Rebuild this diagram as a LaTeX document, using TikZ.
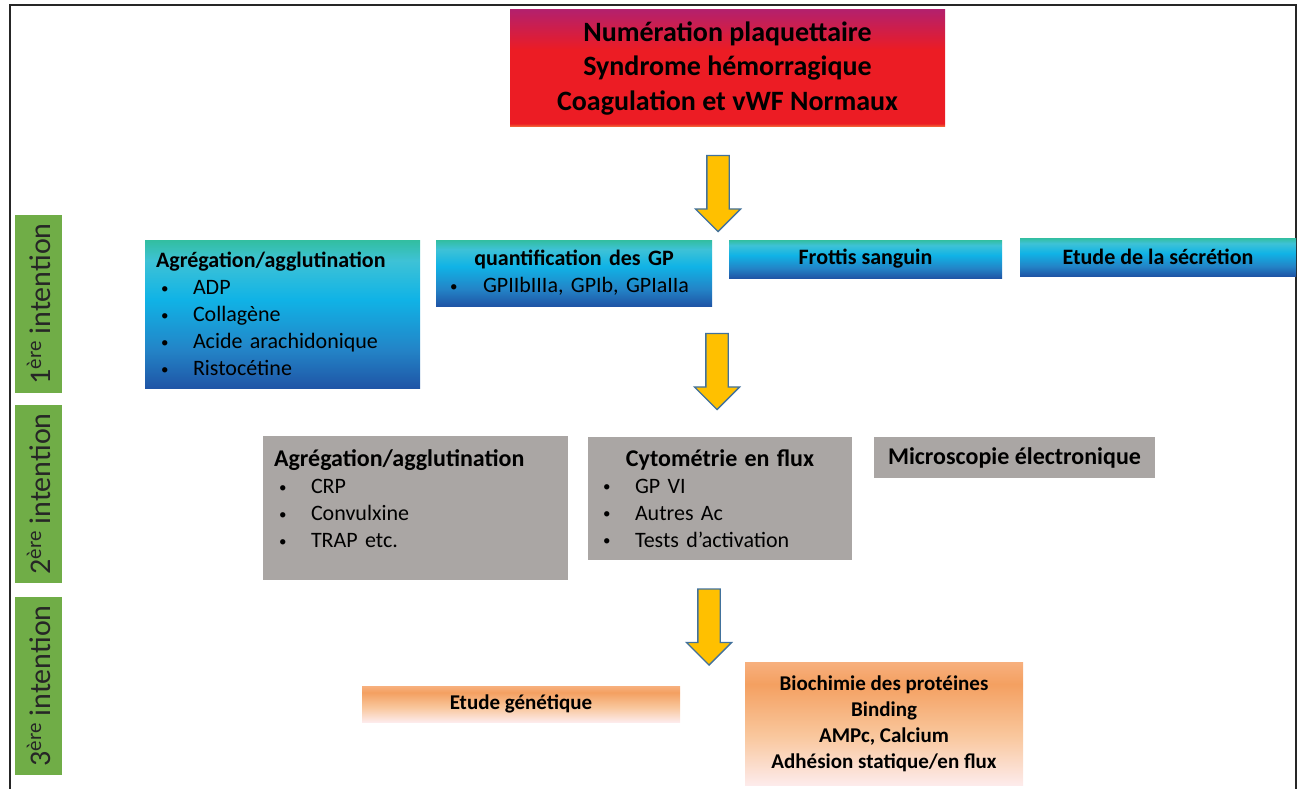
\documentclass[tikz,border=0pt]{standalone}
\usepackage{fontspec}
\setmainfont{Carlito}
\usetikzlibrary{shapes.arrows}
\usetikzlibrary{positioning}

\definecolor{tmag}{RGB}{180,32,108}
\definecolor{tred}{RGB}{236,28,36}
\definecolor{torange}{RGB}{244,120,60}
\definecolor{bteal}{RGB}{50,190,160}
\definecolor{blight}{RGB}{62,194,214}
\definecolor{bcyan}{RGB}{16,179,230}
\definecolor{bmid}{RGB}{35,132,199}
\definecolor{bdark}{RGB}{31,85,166}
\definecolor{otop}{RGB}{247,176,126}
\definecolor{oorange}{RGB}{244,160,97}
\definecolor{olight}{RGB}{249,199,157}
\definecolor{opale}{RGB}{253,235,235}
\definecolor{boxgray}{RGB}{170,166,164}
\definecolor{sidegreen}{RGB}{112,173,71}
\definecolor{arrowfill}{RGB}{255,192,0}
\definecolor{arrowline}{RGB}{65,113,156}

\pgfdeclareverticalshading{redshade}{100bp}{color(0bp)=(torange); color(25bp)=(torange); color(26.5bp)=(tred); color(58bp)=(tred); color(75bp)=(tmag); color(100bp)=(tmag)}
\pgfdeclareverticalshading{blueshade}{100bp}{color(0bp)=(bdark); color(25bp)=(bdark); color(38bp)=(bmid); color(55bp)=(bcyan); color(68bp)=(blight); color(75bp)=(bteal); color(100bp)=(bteal)}
\pgfdeclareverticalshading{orangeshade}{100bp}{color(0bp)=(opale); color(25bp)=(opale); color(45bp)=(olight); color(66bp)=(oorange); color(75bp)=(otop); color(100bp)=(otop)}

\newcommand{\smallbul}{\raisebox{1.5pt}{\fontsize{15}{15}\selectfont\textbullet}}
\newcommand{\itembul}[1]{\makebox[37pt][l]{\hspace{5pt}\smallbul}#1}

\tikzset{
    headbox/.style = {shading=redshade, align=center, inner sep=0pt, font=\fontsize{28}{34.5}\selectfont\bfseries},
    bluebox/.style = {shading=blueshade, inner sep=0pt, font=\fontsize{22}{27}\selectfont},
    graybox/.style = {fill=boxgray, inner sep=0pt, font=\fontsize{22}{27}\selectfont},
    orangebox/.style = {shading=orangeshade, inner sep=0pt, align=center, font=\fontsize{21}{26}\selectfont\bfseries},
    sidebox/.style = {fill=sidegreen, rotate=90, minimum width=178pt, minimum height=47pt, inner sep=0pt, text=black!85, font=\fontsize{30}{30}\selectfont},
    yellowarrow/.style = {single arrow, draw=arrowline, fill=arrowfill, line width=1.3pt, rotate=-90, minimum height=76pt, inner xsep=0pt, inner ysep=10.5pt, single arrow head extend=11.5pt, single arrow tip angle=90},
    frameline/.style = {draw=black!85, line width=2pt},
    titlefont/.style = {font=\fontsize{24}{27}\selectfont\bfseries}
}

\begin{document}
\begin{tikzpicture}[x=1pt, y=-1pt]
\useasboundingbox (0,0) rectangle (1301,789);
%
\draw[frameline] (10,789) -- (10,5) -- (1296,5) -- (1296,789);
%
\node[headbox, minimum width=435pt, minimum height=117pt] (head) at (727.5,68.5) {Numération plaquettaire\\Syndrome hémorragique\\Coagulation et vWF Normaux};
%
\node[sidebox] (side1) at (38.5,304) {1\textsuperscript{ère} intention};
\node[sidebox] (side2) at (38.5,494) {2\textsuperscript{ère} intention};
\node[sidebox] (side3) at (38.5,686) {3\textsuperscript{ère} intention};
%
\node[bluebox, minimum width=275pt, minimum height=148pt, text width=253pt, align=left] (agg1) at (282.5,314)
    {\textbf{Agrégation/agglutination}\\ \itembul{ADP}\\ \itembul{Collagène}\\ \itembul{Acide arachidonique}\\ \itembul{Ristocétine}};
\node[bluebox, minimum width=276pt, minimum height=66pt, text width=248pt, align=left] (quant) at (574,273)
    {\makebox[\linewidth]{\bfseries quantification des GP}\\ \makebox[33pt][l]{\smallbul}GPIIbIIIa, GPIb, GPIaIIa};
\node[bluebox, minimum width=273pt, minimum height=38pt, font=\fontsize{22}{27}\selectfont\bfseries] (frott) at (865.5,259) {Frottis sanguin};
\node[bluebox, minimum width=276pt, minimum height=38pt, font=\fontsize{22}{27}\selectfont\bfseries] (secr) at (1158,257) {Etude de la sécrétion};
%
\node[graybox, minimum width=305pt, minimum height=144pt, text width=283pt, align=left] (agg2) at (415.5,508)
    {{\fontsize{24}{27}\selectfont\bfseries Agrégation/agglutination}\\ \itembul{CRP}\\ \itembul{Convulxine}\\ \itembul{TRAP etc.}\\[-9pt] \mbox{}};
\node[graybox, minimum width=264pt, minimum height=123pt, text width=244pt, align=left] (cyto) at (720,498.5)
    {\makebox[\linewidth]{\fontsize{24}{27}\selectfont\bfseries Cytométrie en flux}\\ \itembul{GP VI}\\ \itembul{Autres Ac}\\ \itembul{Tests d’activation}};
\node[graybox, titlefont, minimum width=281pt, minimum height=41pt] (micro) at (1014.5,457.5) {Microscopie électronique};
%
\node[orangebox, minimum width=318pt, minimum height=36pt] (genet) at (521,704) {Etude génétique};
\node[orangebox, minimum width=278pt, minimum height=123pt] (bioch) at (884,723.5)
    {Biochimie des protéines\\Binding\\AMPc, Calcium\\Adhésion statique/en flux};
%
\node[yellowarrow] (arr1) at (718,188) {};
\node[yellowarrow] (arr2) at (717,366) {};
\node[yellowarrow] (arr3) at (709,621.5) {};

\end{tikzpicture}
\end{document}
